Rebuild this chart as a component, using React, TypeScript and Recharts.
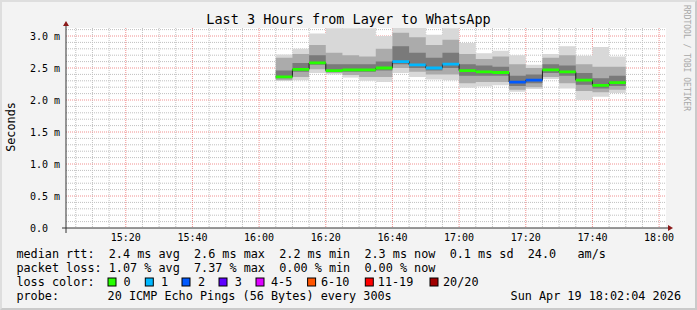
import React from "react"
import {
  ComposedChart,
  Area,
  Line,
  XAxis,
  YAxis,
  CartesianGrid,
  ReferenceDot,
} from "recharts"

// minutes after 15:00 at which each 5 minute bin starts
const binStart = [65, 70, 75, 80, 85, 90, 95, 100, 105, 110, 115, 120, 125, 130, 135, 140, 145, 150, 155, 160, 165]
// median rtt (ms) per bin
const medianRtt = [2.36, 2.48, 2.58, 2.46, 2.47, 2.47, 2.5, 2.6, 2.55, 2.5, 2.56, 2.46, 2.44, 2.43, 2.28, 2.31, 2.47, 2.44, 2.31, 2.23, 2.27]
// lost pings per bin (out of 20)
const lossCount = [0, 0, 0, 0, 0, 0, 0, 1, 1, 1, 1, 0, 0, 0, 2, 2, 0, 0, 0, 0, 0]
// smoke: spread of the single pings
const smokeMin = [2.3, 2.31, 2.42, 2.4, 2.35, 2.3, 2.28, 2.42, 2.36, 2.32, 2.31, 2.19, 2.21, 2.23, 2.13, 2.17, 2.33, 2.18, 2.0, 2.05, 2.11]
const smokeMax = [2.71, 2.8, 3.04, 3.12, 3.12, 3.12, 3.0, 3.13, 3.13, 3.02, 3.12, 2.89, 2.73, 2.77, 2.7, 2.55, 2.72, 2.84, 2.69, 2.83, 2.68]
const smokeMidLo = [2.31, 2.36, 2.48, 2.42, 2.39, 2.36, 2.36, 2.5, 2.44, 2.4, 2.4, 2.26, 2.28, 2.28, 2.16, 2.2, 2.36, 2.26, 2.14, 2.12, 2.16]
const smokeMidHi = [2.66, 2.72, 2.86, 2.74, 2.7, 2.68, 2.8, 3.05, 2.98, 2.86, 2.94, 2.72, 2.64, 2.68, 2.56, 2.5, 2.66, 2.7, 2.56, 2.52, 2.52]
const smokeCoreLo = [2.34, 2.44, 2.55, 2.44, 2.44, 2.44, 2.46, 2.56, 2.5, 2.46, 2.5, 2.38, 2.38, 2.38, 2.22, 2.26, 2.42, 2.38, 2.24, 2.18, 2.22]
const smokeCoreHi = [2.46, 2.58, 2.7, 2.56, 2.56, 2.56, 2.6, 2.84, 2.74, 2.66, 2.74, 2.56, 2.54, 2.52, 2.38, 2.4, 2.56, 2.54, 2.42, 2.34, 2.38]

const xTicks = [20, 40, 60, 80, 100, 120, 140, 160, 180]
const yTicks = [0, 0.5, 1, 1.5, 2, 2.5, 3]
const yTickLabels = ["0.0", "0.5 m", "1.0 m", "1.5 m", "2.0 m", "2.5 m", "3.0 m"]

const lossLegend = [
  { label: "0", color: "#26ff00", box: 108, text: 123.6 },
  { label: "1", color: "#00b8ff", box: 145.3, text: 161 },
  { label: "2", color: "#0059ff", box: 182, text: 198 },
  { label: "3", color: "#5e00ff", box: 219, text: 234.7 },
  { label: "4-5", color: "#dd00ff", box: 256, text: 271 },
  { label: "6-10", color: "#ff5500", box: 307.6, text: 321 },
  { label: "11-19", color: "#ff0000", box: 365.3, text: 377.8 },
  { label: "20/20", color: "#a10000", box: 430, text: 443 },
]
const lossKeys = ["l0", "l1", "l2"]
const lossColors = ["#26ff00", "#00b8ff", "#0059ff"]

const X_MIN = 2.07
const X_MAX = 182.07
const Y_MAX = 3.125
const FONT = "DejaVu Sans Mono, monospace"

// minor grid: every 5 minutes / every 0.1 ms, skipping the major lines
const minorX = Array.from({ length: 36 }, (_, i) => 5 + i * 5).filter((v) => v % 20 !== 0)
const minorY = Array.from({ length: 31 }, (_, i) => i + 1).filter((v) => v % 5 !== 0).map((v) => v / 10)
const majorY = yTicks.slice(1)

const scaleOf = (axis: any) => (v: number) => {
  const s = axis?.scale
  if (typeof s === "function") return s(v)
  if (s && typeof s.map === "function") return s.map(v)
  return 0
}

function buildRows() {
  const rows: Record<string, any>[] = []
  binStart.forEach((s, i) => {
    const e = s + 5
    const base = {
      med: medianRtt[i],
      outer: [smokeMin[i], smokeMax[i]],
      mid: [smokeMidLo[i], smokeMidHi[i]],
      core: [smokeCoreLo[i], smokeCoreHi[i]],
      l0: null,
      l1: null,
      l2: null,
    }
    const key = lossKeys[lossCount[i]]
    rows.push({ t: s, ...base, [key]: medianRtt[i] })
    rows.push({ t: e, ...base, [key]: medianRtt[i] })
    // break the coloured line between bins
    rows.push({ t: e, ...base })
  })
  return rows
}

const fmtTime = (t: number) => {
  const h = 15 + Math.floor(t / 60)
  const m = t % 60
  return `${h}:${m < 10 ? "0" + m : m}`
}

const XTick = (p: any) => (
  <text x={p.x} y={241} textAnchor="middle" fontFamily={FONT} fontSize={10} fill="#000">
    {fmtTime(p.payload.value)}
  </text>
)

const YTick = (p: any) => {
  const idx = yTicks.indexOf(p.payload.value)
  const label = yTickLabels[idx] ?? ""
  const endX = p.payload.value === 0 ? 48 : 60
  return (
    <text x={endX} y={p.y + 3.5} textAnchor="end" fontFamily={FONT} fontSize={10} fill="#000">
      {label}
    </text>
  )
}

const YArrow = (p: any) => (
  <g>
    <line x1={p.cx} y1={p.cy + 205} x2={p.cx} y2={p.cy - 3} stroke="#333" strokeWidth={1} />
    <path d={`M${p.cx - 3},${p.cy - 2} L${p.cx + 3},${p.cy - 2} L${p.cx},${p.cy - 7} Z`} fill="#8b1a1a" />
  </g>
)

const XArrow = (p: any) => (
  <g>
    <line x1={p.cx - 604} y1={p.cy} x2={p.cx + 2} y2={p.cy} stroke="#333" strokeWidth={1} />
    <path d={`M${p.cx + 2},${p.cy - 3} L${p.cx + 2},${p.cy + 3} L${p.cx + 7},${p.cy} Z`} fill="#8b1a1a" />
  </g>
)

const Pre = (props: any) => <text xmlSpace="preserve" style={{ whiteSpace: "pre" }} {...props} />

export default function App() {
  const data = buildRows()
  return (
    <div style={{ position: "absolute", left: 0, top: 0, width: 697, height: 310, background: "#f3f3f3", overflow: "hidden" }}>
      <ComposedChart width={697} height={310} data={data} margin={{ top: 28, right: 31, bottom: 0, left: 0 }}>
        <CartesianGrid
          fill="#ffffff"
          stroke="#c0c0c0"
          strokeDasharray="1 1"
          verticalCoordinatesGenerator={({ xAxis }: any) => minorX.map(scaleOf(xAxis))}
          horizontalCoordinatesGenerator={({ yAxis }: any) => minorY.map(scaleOf(yAxis))}
        />
        <CartesianGrid
          stroke="#f09090"
          strokeDasharray="1 1"
          verticalCoordinatesGenerator={({ xAxis }: any) => xTicks.map(scaleOf(xAxis))}
          horizontalCoordinatesGenerator={({ yAxis }: any) => majorY.map(scaleOf(yAxis))}
        />
        <XAxis
          type="number"
          dataKey="t"
          domain={[X_MIN, X_MAX]}
          allowDataOverflow
          ticks={xTicks}
          tick={XTick}
          tickLine={false}
          axisLine={false}
          height={82}
        />
        <YAxis
          type="number"
          domain={[0, Y_MAX]}
          allowDataOverflow
          ticks={yTicks}
          tick={YTick}
          tickLine={false}
          axisLine={false}
          width={66}
        />
        <Area dataKey="outer" type="linear" stroke="none" fill="#d8d8d8" fillOpacity={1} isAnimationActive={false} />
        <Area dataKey="mid" type="linear" stroke="none" fill="#ababab" fillOpacity={1} isAnimationActive={false} />
        <Area dataKey="core" type="linear" stroke="none" fill="#7a7a7a" fillOpacity={1} isAnimationActive={false} />
        <Line dataKey="med" type="linear" stroke="#202020" strokeWidth={1} dot={false} isAnimationActive={false} />
        {lossKeys.map((k, i) => (
          <Line
            key={k}
            dataKey={k}
            type="linear"
            stroke={lossColors[i]}
            strokeWidth={2.8}
            dot={false}
            activeDot={false}
            isAnimationActive={false}
          />
        ))}
        <ReferenceDot x={X_MIN} y={Y_MAX} ifOverflow="visible" shape={YArrow} />
        <ReferenceDot x={X_MAX} y={0} ifOverflow="visible" shape={XArrow} />
      </ComposedChart>

      <svg width={697} height={310} style={{ position: "absolute", left: 0, top: 0, pointerEvents: "none" }}>
        <text x={348.5} y={24} textAnchor="middle" fontFamily={FONT} fontSize={13.5} fill="#000">
          Last 3 Hours from Layer to WhatsApp
        </text>
        <text transform="translate(15,127) rotate(-90)" textAnchor="middle" fontFamily={FONT} fontSize={11.8} fill="#000">
          Seconds
        </text>
        <text transform="translate(684,5) rotate(90)" fontFamily={FONT} fontSize={8} fill="#a8a8a8">
          RRDTOOL / TOBI OETIKER
        </text>
        <g fontFamily={FONT} fontSize={11.8} fill="#000">
          <Pre x={16.4} y={258}>{"median rtt:  2.4 ms avg  2.6 ms max  2.2 ms min  2.3 ms now  0.1 ms sd  24.0   am/s"}</Pre>
          <Pre x={16.4} y={272}>{"packet loss: 1.07 % avg  7.37 % max  0.00 % min  0.00 % now"}</Pre>
          <Pre x={16.4} y={286}>loss color:</Pre>
          {lossLegend.map((l) => (
            <g key={l.label}>
              <rect x={l.box} y={278} width={8} height={8} fill={l.color} stroke="#000" strokeWidth={1} />
              <text x={l.text} y={286}>{l.label}</text>
            </g>
          ))}
          <Pre x={16.4} y={300}>probe:</Pre>
          <Pre x={107.6} y={300}>20 ICMP Echo Pings (56 Bytes) every 300s</Pre>
          <Pre x={681} y={300} textAnchor="end">Sun Apr 19 18:02:04 2026</Pre>
        </g>
      </svg>
      <div style={{ position: "absolute", inset: 0, borderTop: "2px solid #dedede", borderLeft: "2px solid #dedede", borderRight: "2px solid #cacaca", borderBottom: "2px solid #cacaca", pointerEvents: "none" }} />
    </div>
  )
}
